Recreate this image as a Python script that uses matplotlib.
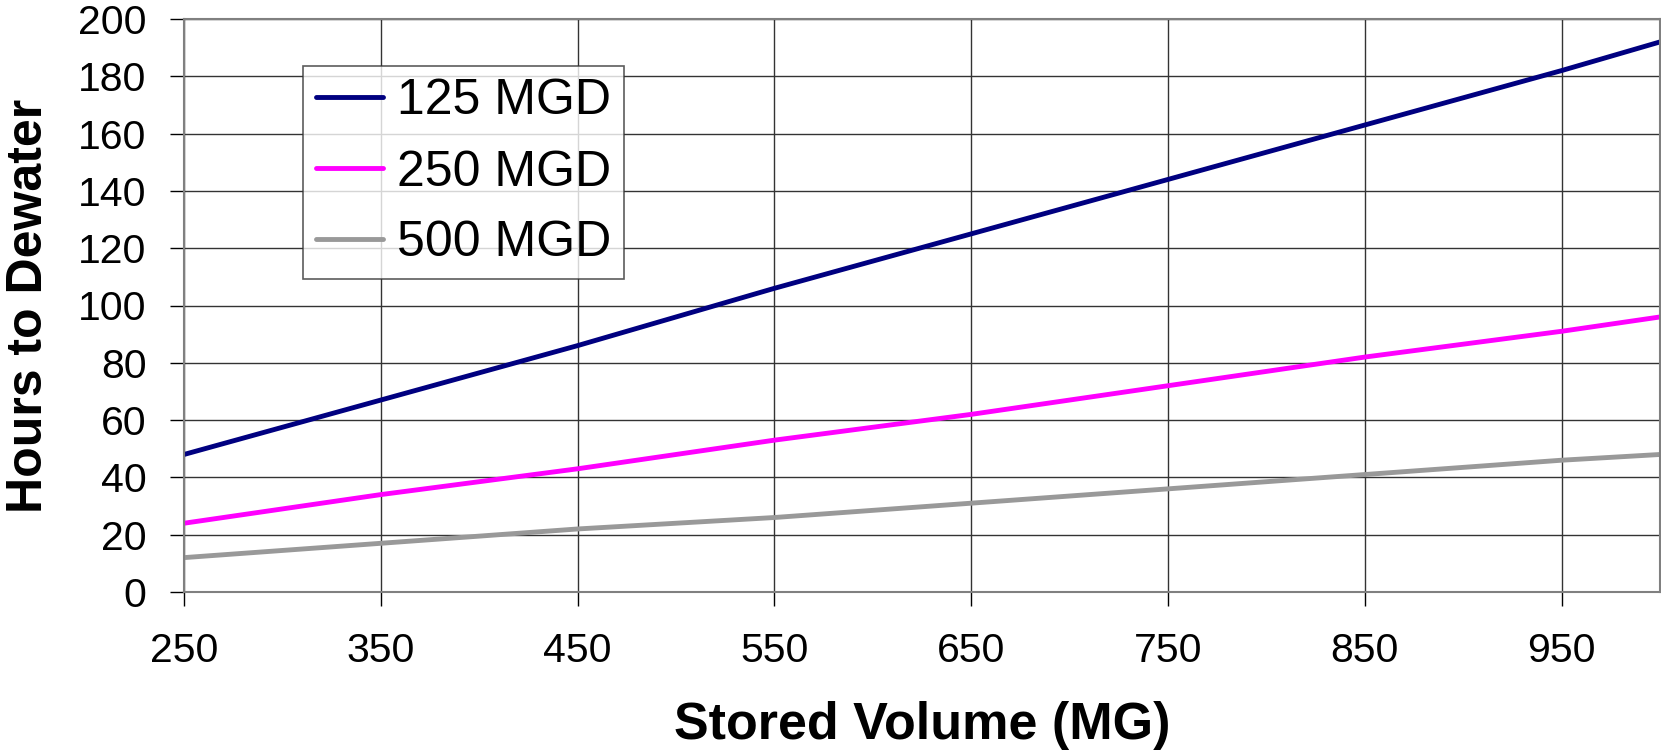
import matplotlib
matplotlib.use("Agg")
import matplotlib.pyplot as plt

# stored volume (MG) and hours to dewater
volume = [250, 350, 450, 550, 650, 750, 850, 950, 1000]
hours_125 = [48, 67, 86, 106, 125, 144, 163, 182, 192]
hours_250 = [24, 34, 43, 53, 62, 72, 82, 91, 96]
hours_500 = [12, 17, 22, 26, 31, 36, 41, 46, 48]
series_names = ["125 MGD", "250 MGD", "500 MGD"]
series_colors = ["#000080", "#FF00FF", "#999999"]
x_ticks = [250, 350, 450, 550, 650, 750, 850, 950]
y_ticks = list(range(0, 201, 20))

plt.rcParams['font.family'] = ['Liberation Sans', 'DejaVu Sans']

W, H = 1661, 752
fig = plt.figure(figsize=(W/100, H/100), dpi=100)
# plot area in pixels: left 184, right 1660, top 19, bottom 592
ax = fig.add_axes([184/W, 1 - 592/H, (1660-184)/W, (592-19)/H])

for ys, name, col in zip([hours_125, hours_250, hours_500], series_names, series_colors):
    ax.plot(volume, ys, color=col, lw=3.5, label=name, solid_capstyle='round')

ax.set_xlim(250, 1000)
ax.set_ylim(0, 200)
ax.set_xticks(x_ticks)
ax.set_yticks(y_ticks)
ax.grid(True, color='#333333', lw=1)
ax.set_axisbelow(True)
for s in ax.spines.values():
    s.set_color('#808080')
    s.set_linewidth(1.5)
ax.tick_params(axis='both', labelsize=29.5, length=10, width=1, color='black')
ax.tick_params(axis='x', pad=19)
ax.tick_params(axis='y', pad=17)

ax.set_xlabel("Stored Volume (MG)", fontsize=37.5, fontweight='bold', labelpad=22)
ax.set_ylabel("Hours to Dewater", fontsize=36, fontweight='bold', labelpad=19)

# legend box top-left at about (303, 66) px
ax_w, ax_h = 1660 - 184, 592 - 19
leg = ax.legend(loc='upper left', bbox_to_anchor=((303-184)/ax_w, 1 - (66-19)/ax_h),
                fontsize=36, frameon=True, fancybox=False, edgecolor='#333333',
                handlelength=1.35, handletextpad=0.28, labelspacing=0.5,
                borderpad=0.25, borderaxespad=0)
leg.get_frame().set_linewidth(1.2)
for ln in leg.get_lines():
    ln.set_linewidth(3.5)
    ln.set_solid_capstyle('round')

fig.savefig("out.png", dpi=100)
